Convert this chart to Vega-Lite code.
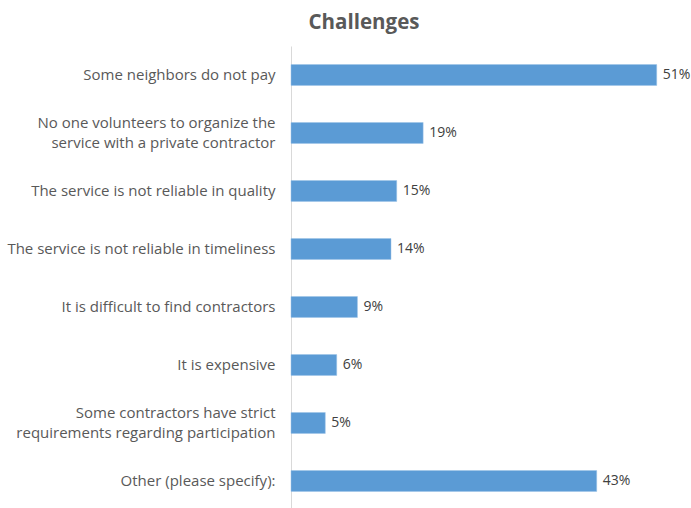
{
  "$schema": "https://vega.github.io/schema/vega-lite/v6.json",
  "autosize": "none",
  "width": 400,
  "height": 464,
  "padding": {"left": 291, "top": 46, "right": 0, "bottom": 0},
  "background": "white",
  "title": {"text": "Challenges", "anchor": "middle", "dx": -127, "offset": 13, "font": "Open Sans", "fontSize": 20.5, "fontWeight": "bold", "color": "#595959"},
  "config": {"view": {"stroke": null}, "font": "Open Sans"},
  "data": {"values": [
    {"label": "Some neighbors do not pay", "value": 0.512},
    {"label": "No one volunteers to organize the|service with a private contractor", "value": 0.185},
    {"label": "The service is not reliable in quality", "value": 0.148},
    {"label": "The service is not reliable in timeliness", "value": 0.14},
    {"label": "It is difficult to find contractors", "value": 0.093},
    {"label": "It is expensive", "value": 0.064},
    {"label": "Some contractors have strict|requirements regarding participation", "value": 0.048},
    {"label": "Other (please specify):", "value": 0.428}
  ]},
  "encoding": {
    "y": {"field": "label", "type": "nominal", "sort": null,
      "scale": {"paddingInner": 0.64, "paddingOuter": 0.32},
      "axis": {"title": null, "ticks": false, "domainColor": "#d9d9d9", "labelColor": "#595959", "labelFontSize": 15, "labelPadding": 16, "labelLimit": 400, "labelExpr": "split(datum.label, '|')", "labelLineHeight": 20,
        "labelOffset": {"condition": {"test": "indexof(datum.value, '|') >= 0", "value": -10}, "value": 0}}},
    "x": {"field": "value", "type": "quantitative", "scale": {"domain": [0, 0.56]}, "axis": null}
  },
  "layer": [
    {"mark": {"type": "bar", "color": "#5B9BD5", "stroke": "#9DC3E6", "strokeWidth": 0.5}},
    {"mark": {"type": "text", "align": "left", "dx": 6, "fontSize": 14, "color": "#404040"},
     "encoding": {"text": {"field": "value", "type": "quantitative", "format": ".0%"}}}
  ]
}
